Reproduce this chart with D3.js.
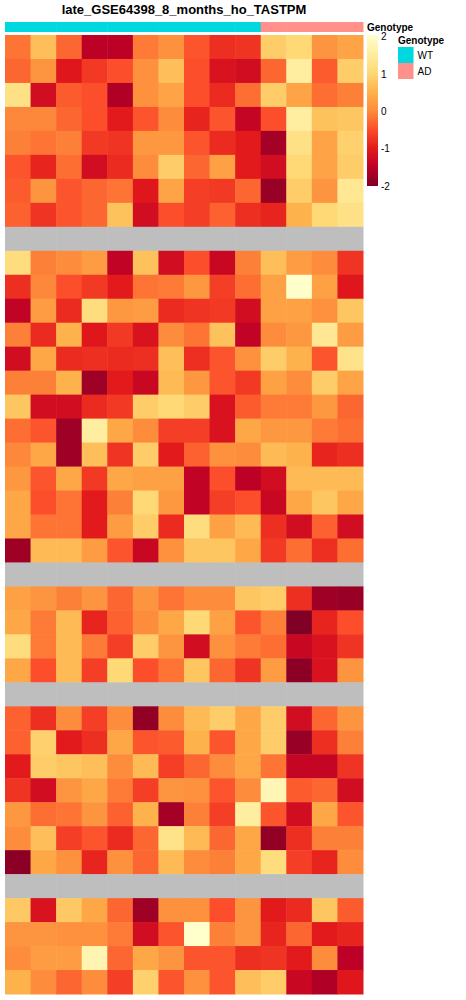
<!DOCTYPE html>
<html>
<head>
<meta charset="utf-8">
<script src="https://cdn.jsdelivr.net/npm/d3@7"></script>
<style>
  body { margin: 0; background: #fff; }
  text { font-family: "Liberation Sans", Arial, sans-serif; }
</style>
</head>
<body>
<div id="heatmap"></div>
<script>
// samples (columns) and their genotype annotation
var samples = ["S1","S2","S3","S4","S5","S6","S7","S8","S9","S10","S11","S12","S13","S14"];
var genotype = ["WT","WT","WT","WT","WT","WT","WT","WT","WT","WT","AD","AD","AD","AD"];
var genotypeLevels = ["WT", "AD"];
var genotypeColors = ["#00D8DF", "#FF918A"];

// scaled expression, one array per row; null = NA row (grey)
var values = [
  [-0.2, 0.65, -0.3, -1.5, -1.5, -0.15, 0.05, -0.45, -0.8, -0.75, 0.85, 1.0, 0.1, 0.3],
  [-0.3, 0.1, -1.05, -0.7, -0.5, 0.05, 0.65, -0.5, -1.15, -1.25, -0.3, 1.5, -0.4, 0.85],
  [1.2, -1.25, -0.4, -0.5, -1.6, 0.05, 0.3, -0.5, -0.85, -0.25, 0.85, 0.3, -0.25, -0.1],
  [-0.05, -0.05, -0.3, -0.5, -1.0, -0.45, 0.0, -0.9, -0.45, -1.4, -0.5, 1.5, 0.7, 0.75],
  [-0.1, -0.2, -0.1, -0.7, -0.75, 0.15, 0.15, -0.45, -0.85, -1.0, -1.7, 1.2, 0.3, 0.9],
  [-0.45, -0.9, -0.25, -1.25, -0.85, 0.0, 0.85, -0.3, 0.25, -1.0, -1.25, 1.0, 0.3, 0.85],
  [-0.4, 0.1, -0.45, -0.3, -0.2, -1.05, 0.3, -0.65, -0.7, -0.3, -1.8, 0.85, 0.1, 1.35],
  [-0.35, -0.75, -0.45, -0.3, 0.7, -1.25, -0.5, -0.65, -0.35, -0.8, -0.9, 0.5, 1.0, 1.2],
  null,
  [1.1, -0.1, 0.0, 0.2, -1.45, 0.7, -1.25, -0.5, -1.35, -0.1, 0.65, 0.2, 0.0, -0.75],
  [-0.8, -0.05, -0.5, -0.7, -1.0, -0.2, -0.15, 0.15, -0.65, -0.25, 0.25, 2.0, 0.25, -1.05],
  [-1.45, 0.2, -0.85, 1.1, 0.15, 0.2, -0.85, -0.75, -0.7, -1.25, 0.25, 0.25, 0.05, 0.75],
  [-0.1, -0.85, 0.5, -1.05, -0.7, -1.15, 0.0, -0.2, 0.7, -1.45, 0.0, 0.15, 1.35, 0.2],
  [-1.25, 0.35, -0.85, -0.8, -0.85, -0.8, 0.65, -0.8, -0.45, 0.05, 0.85, 0.5, -0.45, 1.25],
  [-0.1, -0.1, 0.5, -1.75, -1.0, -1.35, 0.6, 0.15, -0.45, -0.7, 0.25, 0.0, 0.85, 0.3],
  [0.75, -1.25, -1.25, -0.85, -0.7, 0.85, 1.0, 0.85, -1.15, -0.4, -0.15, -0.15, 0.15, -0.3],
  [-0.25, -0.45, -1.75, 1.5, 0.35, 0.0, -0.65, -0.65, -1.15, 0.35, 0.15, 0.15, -0.15, -0.25],
  [-0.05, 0.35, -1.75, 0.65, -0.75, 0.85, -1.0, -0.35, 0.05, 0.0, 0.6, 0.5, -0.9, -0.8],
  [0.15, -0.45, 0.35, -0.7, 0.35, 0.25, 0.25, -1.45, -0.5, -1.5, -1.25, 0.6, 0.6, 0.6],
  [0.35, -0.5, -0.2, -1.0, -0.1, 1.0, 0.15, -1.45, -0.65, -0.5, -1.35, 0.35, 0.75, 0.35],
  [0.35, -0.2, -0.2, -1.0, 0.2, 0.85, -0.85, 1.1, 0.25, 0.6, -0.8, -1.25, -0.35, -1.25],
  [-1.75, 0.6, 0.6, 0.2, -0.45, -1.35, 0.05, 0.75, 0.75, 0.35, -0.7, -0.25, -0.8, -0.25],
  null,
  [0.25, 0.1, -0.1, 0.1, -0.3, 0.1, -0.2, 0.0, 0.0, 0.75, 0.85, -0.8, -1.75, -1.8],
  [0.35, -0.15, 0.6, -0.9, -0.35, 0.0, 0.35, 1.0, 0.25, -0.45, -0.1, -2.0, -0.9, -0.5],
  [1.1, -0.15, 0.6, -0.15, -0.65, 0.85, 0.1, -1.25, 0.05, -0.15, -0.25, -1.35, -1.15, -0.75],
  [0.35, -0.5, 0.6, -0.65, 1.0, -0.5, -0.2, 0.75, -0.3, -0.75, 0.2, -1.9, -1.15, 0.1],
  null,
  [-0.35, -0.8, 0.0, -0.65, 0.0, -1.85, 0.0, 0.6, 0.85, 0.35, 0.85, -1.25, -0.3, 0.1],
  [-0.35, 0.9, -1.0, -0.8, 0.35, -0.45, -0.4, 0.5, -0.45, 0.35, 0.85, -1.8, -0.8, -0.1],
  [-1.0, 0.85, 0.75, 0.65, 0.0, 0.6, -0.65, -0.3, 0.0, 0.35, -0.2, -1.4, -1.4, -0.75],
  [-0.75, -1.25, 0.1, 0.35, -0.15, -0.65, 0.1, 0.05, -0.45, 0.0, 1.75, -0.4, -0.3, -1.25],
  [0.15, -0.25, -0.2, 0.1, -0.35, 0.5, -1.7, -0.1, -0.65, 1.5, -0.45, -1.25, 0.35, -0.45],
  [0.0, 0.65, -0.65, -0.45, -0.85, -0.3, 1.25, 0.6, -0.3, 0.35, -1.85, -0.8, -0.1, -0.1],
  [-1.9, 0.35, 0.05, -0.9, 0.05, -0.3, 0.6, 0.0, -0.1, 0.35, 1.1, -0.65, -0.9, 0.0],
  null,
  [0.8, -1.15, 0.8, 0.35, -0.3, -1.75, 0.05, 0.05, -0.5, 0.1, -1.0, -0.85, 0.75, -0.4],
  [0.1, 0.1, 0.05, 0.05, -0.15, -1.25, -0.45, 2.0, -0.1, 0.1, -0.9, -0.3, -1.0, -0.9],
  [0.0, 0.2, 0.2, 1.7, -0.3, 0.35, 0.1, -0.45, -0.45, -0.8, -0.75, -1.0, 0.0, -1.5],
  [0.5, 0.0, -0.3, 0.0, -0.65, 0.9, -0.45, 0.05, -0.45, 0.65, 0.85, -1.35, -1.6, -1.05]
];

var legendTicks = [2, 1, 0, -1, -2];
var paletteBreaks = [-2, -1.5, -1, -0.5, 0, 0.5, 1, 1.5, 2];
var paletteColors = ["#800026", "#BD0026", "#E31A1C", "#FC4E2A", "#FD8D3C", "#FEB24C", "#FED976", "#FFEDA0", "#FFFFCC"];
var naColor = "#BEBEBE";
var title = "late_GSE64398_8_months_ho_TASTPM";

var W = 466, H = 1000;
var hm = {left: 5, right: 363, top: 35, bottom: 994};

var svg = d3.select("#heatmap").append("svg")
  .attr("width", W)
  .attr("height", H);

var color = d3.scaleLinear()
  .domain(paletteBreaks)
  .range(paletteColors)
  .clamp(true);

var x = d3.scaleBand()
  .domain(samples)
  .range([hm.left, hm.right]);

var y = d3.scaleBand()
  .domain(d3.range(values.length))
  .range([hm.top, hm.bottom]);

var annColor = d3.scaleOrdinal()
  .domain(genotypeLevels)
  .range(genotypeColors);

// title
svg.append("text")
  .attr("x", (hm.left + hm.right) / 2)
  .attr("y", 13.5)
  .attr("text-anchor", "middle")
  .style("font-size", "13px")
  .style("font-weight", "bold")
  .text(title);

// annotation bar
svg.append("g")
  .selectAll("rect")
  .data(samples)
  .enter()
  .append("rect")
    .attr("x", d => x(d))
    .attr("y", 22)
    .attr("width", x.bandwidth() + 0.5)
    .attr("height", 10)
    .attr("fill", (d, i) => annColor(genotype[i]));

svg.append("text")
  .attr("x", 367)
  .attr("y", 30.5)
  .style("font-size", "10px")
  .style("font-weight", "bold")
  .text("Genotype");

// cells
var cells = [];
values.forEach(function(row, r) {
  samples.forEach(function(s, c) {
    cells.push({r: r, s: s, v: row === null ? null : row[c]});
  });
});

svg.append("g")
  .selectAll("rect")
  .data(cells)
  .enter()
  .append("rect")
    .attr("x", d => x(d.s))
    .attr("y", d => y(d.r))
    .attr("width", x.bandwidth() + 0.5)
    .attr("height", y.bandwidth() + 0.5)
    .attr("fill", d => d.v === null ? naColor : color(d.v));

// colour legend
var defs = svg.append("defs");
var grad = defs.append("linearGradient")
  .attr("id", "grad")
  .attr("x1", 0).attr("y1", 1)
  .attr("x2", 0).attr("y2", 0);
paletteBreaks.forEach(function(b, i) {
  grad.append("stop")
    .attr("offset", (b + 2) / 4)
    .attr("stop-color", paletteColors[i]);
});

var ly = d3.scaleLinear().domain([2, -2]).range([36.5, 186]);

svg.append("rect")
  .attr("x", 367)
  .attr("y", 35)
  .attr("width", 11)
  .attr("height", 151)
  .attr("fill", "url(#grad)");

var legAxis = d3.axisRight(ly)
  .tickValues(legendTicks)
  .tickSize(0)
  .tickPadding(0)
  .tickFormat(d => String(d));

var lg = svg.append("g")
  .attr("transform", "translate(381,0)")
  .call(legAxis);
lg.select(".domain").remove();
lg.selectAll("text")
  .style("font-family", "'Liberation Sans', Arial, sans-serif")
  .style("font-size", "10px")
  .attr("fill", "#000");

// genotype legend
svg.append("text")
  .attr("x", 398)
  .attr("y", 44)
  .style("font-size", "10px")
  .style("font-weight", "bold")
  .text("Genotype");

var key = svg.append("g")
  .selectAll("g")
  .data(genotypeLevels)
  .enter()
  .append("g")
    .attr("transform", (d, i) => "translate(398," + (47 + i * 16) + ")");

key.append("rect")
  .attr("width", 15.5)
  .attr("height", 16)
  .attr("fill", d => annColor(d));

key.append("text")
  .attr("x", 19.5)
  .attr("y", 11.5)
  .style("font-size", "10px")
  .text(d => d);
</script>
</body>
</html>
